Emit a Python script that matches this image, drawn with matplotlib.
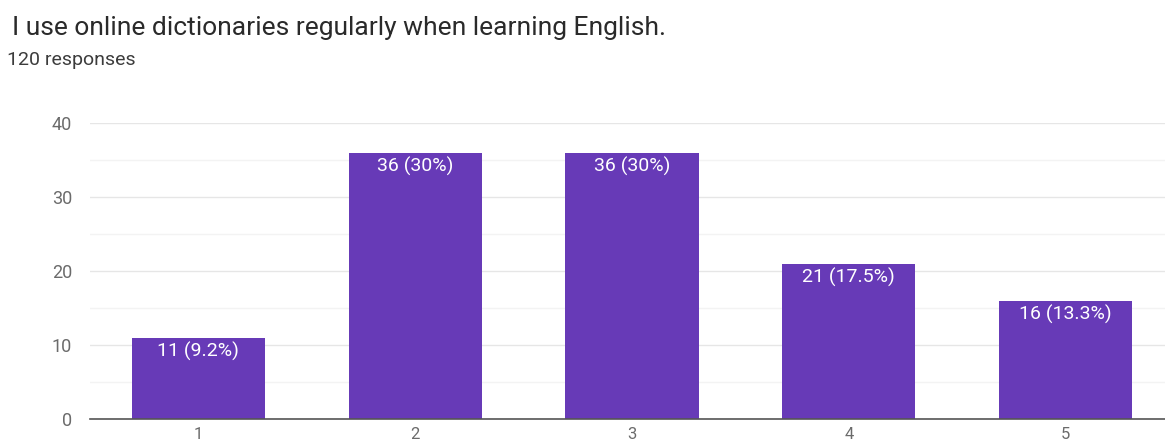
import matplotlib
matplotlib.use("Agg")
import matplotlib.pyplot as plt
from matplotlib.ticker import MultipleLocator

plt.rcParams['font.family'] = ['Roboto', 'DejaVu Sans']

title = "I use online dictionaries regularly when learning English."
subtitle = "120 responses"
categories = ["1", "2", "3", "4", "5"]
counts = [11, 36, 36, 21, 16]
labels = ["11 (9.2%)", "36 (30%)", "36 (30%)", "21 (17.5%)", "16 (13.3%)"]
yticks = [0, 10, 20, 30, 40]

W, H = 1165, 448
fig = plt.figure(figsize=(W / 100, H / 100), dpi=100)
left, right, bottom, top = 90, 1174, 29, 325
ax = fig.add_axes([left / W, bottom / H, (right - left) / W, (top - bottom) / H])

color = "#673AB7"
x = list(range(len(categories)))
bars = ax.bar(x, counts, width=0.615, color=color, zorder=3)
for b, lab in zip(bars, labels):
    ax.annotate(lab, (b.get_x() + b.get_width() / 2, b.get_height()),
                xytext=(0, -3), textcoords="offset points", ha="center", va="top",
                color="white", fontsize=14, zorder=4)

ax.set_xlim(-0.5, len(categories) - 0.5)
ax.set_ylim(0, 40)
ax.set_xticks(x)
ax.set_xticklabels(categories)
ax.set_yticks(yticks)
ax.yaxis.set_minor_locator(MultipleLocator(5))
ax.grid(axis="y", which="major", color="#e6e6e6", linewidth=1, zorder=0)
ax.grid(axis="y", which="minor", color="#f3f3f3", linewidth=1, zorder=0)
for s in ["top", "right", "left"]:
    ax.spines[s].set_visible(False)
ax.spines["bottom"].set_color("#555555")
ax.spines["bottom"].set_linewidth(1.2)
ax.spines["bottom"].set_zorder(5)
ax.tick_params(axis="both", which="both", length=0, colors="#6b6b6b", labelsize=13)
ax.tick_params(axis="y", pad=13)
ax.tick_params(axis="x", pad=6, labelsize=12)

fig.text(12 / W, 1 - 35 / H, title, fontsize=19, color="#2a2a2a", va="baseline", ha="left")
fig.text(7 / W, 1 - 65 / H, subtitle, fontsize=14, color="#3c3c3c", va="baseline", ha="left")

fig.savefig("out.png", dpi=100)
